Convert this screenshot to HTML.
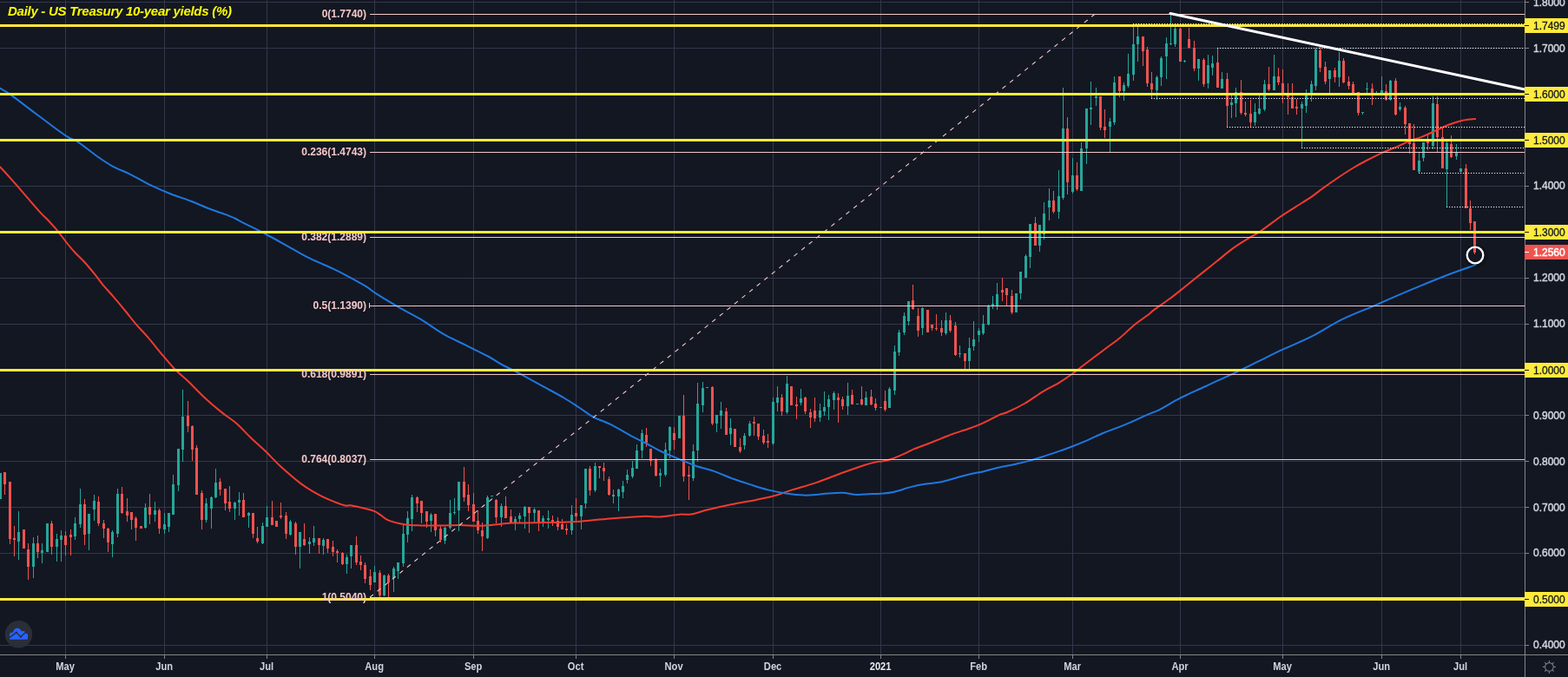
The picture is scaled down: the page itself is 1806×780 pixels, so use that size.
<!DOCTYPE html><html><head><meta charset="utf-8"><style>html,body{margin:0;padding:0;background:#131722;overflow:hidden}svg{display:block}text{font-family:"Liberation Sans",Arial,sans-serif}</style></head><body>
<svg width="1806" height="780" viewBox="0 0 1806 780">
<rect width="1806" height="780" fill="#131722"/>
<path d="M75.5 0V754 M189.5 0V754 M307.5 0V754 M431.5 0V754 M545.5 0V754 M663.5 0V754 M776.5 0V754 M890.5 0V754 M1014.5 0V754 M1127.5 0V754 M1235.5 0V754 M1359.5 0V754 M1477.5 0V754 M1591.5 0V754 M1682.5 0V754 M0 2.5H1756 M0 55.5H1756 M0 108.5H1756 M0 161.5H1756 M0 214.5H1756 M0 267.5H1756 M0 320.5H1756 M0 373.5H1756 M0 426.5H1756 M0 478.5H1756 M0 531.5H1756 M0 584.5H1756 M0 637.5H1756 M0 690.5H1756 M0 743.5H1756" stroke="#33374a" stroke-width="1" fill="none" shape-rendering="crispEdges"/>
<path d="M0.5 545V575M21.5 589V645M38.5 619V666M48.5 626V649M54.5 603V636M65.5 615V647M70.5 611V647M86.5 596V622M92.5 563V608M102.5 592V634M108.5 570V600M129.5 611V642M135.5 563V619M167.5 580V609M178.5 578V601M189.5 591V615M194.5 591V613M199.5 547V593M205.5 517V566M210.5 449V532M237.5 574V602M243.5 572V609M248.5 540V574M270.5 578V599M275.5 567V594M286.5 590V608M302.5 602V627M307.5 583V607M334.5 599V617M345.5 613V655M356.5 619V638M361.5 606V629M372.5 620V639M399.5 639V661M404.5 628V655M431.5 652V671M442.5 662V687M453.5 653V682M458.5 648V667M464.5 605V653M469.5 589V625M474.5 570V612M496.5 591V613M512.5 607V627M518.5 576V610M523.5 574V593M528.5 555V612M561.5 571V621M566.5 571V572M577.5 580V607M593.5 595V611M598.5 591V602M604.5 583V609M615.5 585V603M625.5 594V607M631.5 588V609M658.5 582V616M669.5 582V610M674.5 540V586M685.5 533V567M706.5 564V580M712.5 563V589M717.5 554V574M722.5 541V557M728.5 531V551M733.5 512V540M739.5 495V528M760.5 540V561M766.5 510V549M771.5 491V528M782.5 479V505M798.5 512V554M803.5 441V532M809.5 440V475M814.5 446V447M825.5 478V498M830.5 463V494M841.5 482V513M857.5 499V518M863.5 485V503M890.5 458V513M895.5 445V474M906.5 433V477M922.5 448V467M944.5 465V486M949.5 451V479M954.5 455V484M960.5 451V472M976.5 441V478M987.5 465V466M997.5 451V467M1014.5 469V470M1024.5 446V470M1030.5 398V455M1035.5 380V410M1041.5 360V386M1046.5 347V375M1062.5 354V386M1089.5 360V386M1105.5 398V412M1116.5 389V428M1121.5 370V404M1127.5 378V394M1132.5 363V386M1138.5 351V375M1143.5 341V356M1148.5 326V357M1170.5 338V360M1175.5 313V345M1181.5 293V320M1186.5 258V309M1197.5 259V290M1202.5 233V276M1208.5 217V254M1219.5 196V252M1224.5 101V230M1235.5 182V223M1245.5 164V220M1251.5 125V189M1256.5 94V144M1262.5 101V122M1278.5 136V175M1283.5 88V144M1294.5 95V116M1299.5 62V101M1305.5 31V93M1310.5 31V71M1332.5 87V115M1337.5 65V99M1343.5 43V91M1348.5 15V52M1353.5 31V54M1364.5 69V72M1380.5 68V93M1391.5 63V102M1396.5 64V87M1407.5 83V102M1418.5 110V136M1423.5 101V135M1445.5 119V145M1450.5 110V132M1456.5 92V128M1467.5 63V104M1499.5 117V170M1504.5 103V130M1510.5 93V117M1515.5 55V104M1531.5 81V107M1542.5 60V100M1569.5 129V132M1574.5 95V107M1585.5 105V108M1591.5 88V107M1601.5 92V116M1612.5 118V128M1634.5 176V199M1639.5 164V186M1650.5 111V172M1666.5 163V238M1677.5 166V184M1682.5 194V198" stroke="#26a69a" stroke-width="1" shape-rendering="crispEdges"/>
<path d="M5.5 544V570M11.5 555V627M16.5 606V641M27.5 610V632M32.5 626V668M43.5 617V643M59.5 600V639M75.5 612V640M81.5 610V640M97.5 575V628M113.5 572V606M119.5 599V620M124.5 608V636M140.5 561V592M146.5 574V601M151.5 590V610M156.5 595V623M162.5 606V609M172.5 569V604M183.5 586V615M216.5 462V498M221.5 490V531M226.5 513V570M232.5 565V610M253.5 551V571M259.5 563V588M264.5 560V590M280.5 568V596M291.5 591V620M296.5 607V626M313.5 577V605M318.5 600V607M323.5 579V598M329.5 590V621M340.5 601V639M350.5 603V629M367.5 620V638M377.5 621V637M383.5 623V641M388.5 633V648M394.5 636V651M410.5 618V651M415.5 640V657M420.5 648V672M426.5 656V680M437.5 657V688M447.5 661V688M480.5 572V590M485.5 577V603M491.5 589V608M501.5 592V618M507.5 606V625M534.5 538V578M539.5 558V589M545.5 568V601M550.5 588V615M555.5 602V635M571.5 575V603M582.5 572V597M588.5 587V602M609.5 584V614M620.5 588V612M636.5 594V606M642.5 596V611M647.5 598V610M652.5 604V616M663.5 574V601M679.5 537V571M690.5 537V551M695.5 533V554M701.5 549V571M744.5 493V515M749.5 517V537M755.5 528V549M776.5 492V518M787.5 455V555M793.5 537V576M820.5 445V490M836.5 470V501M846.5 494V515M852.5 505V522M868.5 480V502M873.5 488V507M879.5 495V512M884.5 500V516M900.5 454V479M911.5 445V467M917.5 457V483M927.5 457V477M933.5 471V493M938.5 458V486M965.5 453V487M970.5 457V472M981.5 449V466M992.5 445V467M1003.5 449V467M1008.5 459V473M1019.5 450V474M1051.5 328V357M1057.5 355V388M1068.5 357V383M1073.5 374V381M1078.5 362V381M1084.5 369V387M1094.5 363V383M1100.5 371V410M1111.5 407V425M1154.5 320V347M1159.5 332V352M1165.5 334V362M1192.5 250V283M1213.5 220V246M1229.5 135V224M1240.5 187V220M1267.5 111V150M1272.5 126V159M1289.5 88V112M1316.5 42V76M1321.5 54V100M1326.5 83V113M1359.5 32V71M1369.5 32V56M1375.5 47V82M1386.5 67V100M1402.5 55V101M1413.5 84V146M1429.5 92V132M1434.5 117V134M1440.5 115V146M1461.5 77V105M1472.5 78V98M1477.5 80V119M1483.5 96V132M1488.5 96V125M1493.5 114V132M1520.5 54V83M1526.5 71V97M1537.5 78V95M1547.5 67V96M1553.5 88V103M1558.5 94V108M1564.5 106V133M1580.5 96V121M1596.5 97V116M1607.5 90V133M1618.5 122V155M1623.5 142V177M1628.5 143V196M1644.5 155V173M1655.5 111V175M1661.5 148V194M1671.5 156V182M1688.5 189V240M1693.5 231V265M1698.5 255V293" stroke="#ef5350" stroke-width="1" shape-rendering="crispEdges"/>
<path d="M-1 545h3v30h-3zM20 613h3v11h-3zM37 626h3v27h-3zM47 634h3v3h-3zM53 603h3v33h-3zM64 621h3v9h-3zM69 617h3v5h-3zM85 603h3v15h-3zM91 581h3v23h-3zM101 592h3v23h-3zM107 577h3v10h-3zM128 613h3v14h-3zM134 569h3v46h-3zM166 585h3v23h-3zM177 588h3v5h-3zM188 604h3v6h-3zM193 591h3v16h-3zM198 558h3v35h-3zM204 517h3v42h-3zM209 480h3v38h-3zM236 580h3v19h-3zM242 573h3v13h-3zM247 556h3v17h-3zM269 579h3v7h-3zM274 576h3v3h-3zM285 591h3v3h-3zM301 606h3v20h-3zM306 596h3v11h-3zM333 601h3v15h-3zM344 613h3v17h-3zM355 624h3v3h-3zM360 620h3v5h-3zM371 622h3v7h-3zM398 642h3v8h-3zM403 628h3v13h-3zM430 659h3v12h-3zM441 663h3v23h-3zM452 655h3v11h-3zM457 648h3v10h-3zM463 615h3v34h-3zM468 597h3v19h-3zM473 573h3v25h-3zM495 593h3v7h-3zM511 608h3v15h-3zM517 591h3v17h-3zM522 590h3v1h-3zM527 555h3v33h-3zM560 573h3v47h-3zM565 571h3v1h-3zM576 583h3v13h-3zM592 598h3v4h-3zM597 594h3v4h-3zM603 584h3v11h-3zM614 587h3v4h-3zM624 597h3v6h-3zM630 597h3v2h-3zM657 593h3v18h-3zM668 582h3v13h-3zM673 540h3v40h-3zM684 537h3v28h-3zM705 570h3v2h-3zM711 564h3v8h-3zM716 560h3v7h-3zM721 547h3v6h-3zM727 539h3v10h-3zM732 519h3v21h-3zM738 499h3v20h-3zM759 545h3v3h-3zM765 518h3v29h-3zM770 492h3v27h-3zM781 479h3v26h-3zM797 520h3v31h-3zM802 465h3v54h-3zM808 447h3v20h-3zM813 446h3v1h-3zM824 478h3v10h-3zM829 473h3v6h-3zM840 493h3v7h-3zM856 502h3v11h-3zM862 488h3v14h-3zM889 463h3v48h-3zM894 458h3v6h-3zM905 442h3v33h-3zM921 459h3v5h-3zM943 473h3v8h-3zM948 469h3v5h-3zM953 460h3v9h-3zM959 453h3v8h-3zM975 456h3v12h-3zM986 465h3v1h-3zM996 458h3v9h-3zM1013 469h3v1h-3zM1023 448h3v22h-3zM1029 405h3v45h-3zM1034 383h3v23h-3zM1040 364h3v19h-3zM1045 347h3v23h-3zM1061 355h3v23h-3zM1088 369h3v15h-3zM1104 407h3v1h-3zM1115 401h3v15h-3zM1120 391h3v8h-3zM1126 381h3v5h-3zM1131 373h3v11h-3zM1137 352h3v22h-3zM1142 350h3v2h-3zM1147 339h3v13h-3zM1169 338h3v22h-3zM1174 313h3v25h-3zM1180 295h3v25h-3zM1185 258h3v38h-3zM1196 259h3v24h-3zM1201 246h3v24h-3zM1207 231h3v8h-3zM1218 226h3v18h-3zM1223 148h3v80h-3zM1234 202h3v19h-3zM1244 171h3v49h-3zM1250 125h3v46h-3zM1255 124h3v2h-3zM1261 111h3v2h-3zM1277 140h3v6h-3zM1282 95h3v46h-3zM1293 98h3v7h-3zM1298 85h3v14h-3zM1304 51h3v35h-3zM1309 42h3v9h-3zM1331 89h3v15h-3zM1336 67h3v22h-3zM1342 50h3v15h-3zM1347 50h3v1h-3zM1352 33h3v18h-3zM1363 70h3v1h-3zM1379 68h3v11h-3zM1390 75h3v21h-3zM1395 73h3v5h-3zM1406 91h3v11h-3zM1417 118h3v3h-3zM1422 106h3v13h-3zM1444 129h3v12h-3zM1449 125h3v6h-3zM1455 97h3v29h-3zM1466 88h3v16h-3zM1498 120h3v5h-3zM1503 110h3v12h-3zM1509 97h3v10h-3zM1514 57h3v42h-3zM1530 81h3v10h-3zM1541 70h3v19h-3zM1568 129h3v1h-3zM1573 102h3v1h-3zM1584 107h3v1h-3zM1590 104h3v3h-3zM1600 93h3v22h-3zM1611 123h3v3h-3zM1633 185h3v13h-3zM1638 164h3v18h-3zM1649 119h3v49h-3zM1665 165h3v30h-3zM1676 175h3v5h-3zM1681 194h3v4h-3z" fill="#26a69a" shape-rendering="crispEdges"/>
<path d="M4 544h3v14h-3zM10 555h3v66h-3zM15 620h3v2h-3zM26 610h3v22h-3zM31 633h3v20h-3zM42 626h3v10h-3zM58 603h3v27h-3zM74 617h3v11h-3zM80 616h3v3h-3zM96 581h3v35h-3zM112 578h3v25h-3zM118 603h3v6h-3zM123 609h3v16h-3zM139 569h3v22h-3zM145 589h3v5h-3zM150 590h3v9h-3zM155 597h3v11h-3zM161 606h3v3h-3zM171 584h3v9h-3zM182 588h3v21h-3zM215 479h3v12h-3zM220 491h3v27h-3zM225 516h3v54h-3zM231 568h3v31h-3zM252 555h3v9h-3zM258 563h3v17h-3zM263 578h3v8h-3zM279 576h3v20h-3zM290 591h3v24h-3zM295 620h3v4h-3zM312 596h3v9h-3zM317 600h3v7h-3zM322 594h3v2h-3zM328 594h3v21h-3zM339 603h3v27h-3zM349 621h3v7h-3zM366 620h3v8h-3zM376 621h3v11h-3zM382 630h3v6h-3zM387 635h3v2h-3zM393 637h3v13h-3zM409 628h3v20h-3zM414 647h3v4h-3zM419 651h3v16h-3zM425 664h3v10h-3zM436 660h3v26h-3zM446 663h3v8h-3zM479 573h3v7h-3zM484 577h3v14h-3zM490 589h3v12h-3zM500 592h3v19h-3zM506 609h3v13h-3zM533 555h3v18h-3zM538 570h3v12h-3zM544 581h3v20h-3zM549 600h3v11h-3zM554 611h3v7h-3zM570 576h3v20h-3zM581 583h3v14h-3zM587 595h3v7h-3zM608 584h3v7h-3zM619 588h3v14h-3zM635 599h3v2h-3zM641 600h3v7h-3zM646 604h3v6h-3zM651 609h3v2h-3zM662 591h3v4h-3zM678 540h3v25h-3zM689 537h3v2h-3zM694 539h3v4h-3zM700 552h3v18h-3zM743 501h3v9h-3zM748 517h3v14h-3zM754 530h3v18h-3zM775 499h3v8h-3zM786 479h3v70h-3zM792 547h3v2h-3zM819 446h3v42h-3zM835 474h3v27h-3zM845 494h3v21h-3zM851 515h3v5h-3zM867 486h3v2h-3zM872 488h3v15h-3zM878 502h3v8h-3zM883 508h3v2h-3zM899 458h3v16h-3zM910 445h3v22h-3zM916 466h3v2h-3zM926 458h3v16h-3zM932 475h3v6h-3zM937 473h3v9h-3zM964 458h3v3h-3zM969 460h3v8h-3zM980 455h3v11h-3zM991 460h3v6h-3zM1002 457h3v9h-3zM1007 465h3v5h-3zM1018 462h3v10h-3zM1050 346h3v10h-3zM1056 364h3v17h-3zM1067 357h3v26h-3zM1072 374h3v4h-3zM1077 378h3v1h-3zM1083 378h3v5h-3zM1093 369h3v12h-3zM1099 375h3v34h-3zM1110 407h3v9h-3zM1153 334h3v3h-3zM1158 332h3v8h-3zM1164 341h3v19h-3zM1191 257h3v26h-3zM1212 231h3v13h-3zM1228 148h3v62h-3zM1239 202h3v16h-3zM1266 111h3v36h-3zM1271 146h3v4h-3zM1288 88h3v17h-3zM1315 42h3v17h-3zM1320 57h3v39h-3zM1325 96h3v7h-3zM1358 33h3v38h-3zM1368 45h3v10h-3zM1374 55h3v24h-3zM1385 69h3v28h-3zM1401 72h3v29h-3zM1412 91h3v31h-3zM1428 106h3v24h-3zM1433 130h3v2h-3zM1439 131h3v10h-3zM1460 97h3v6h-3zM1471 88h3v7h-3zM1476 96h3v11h-3zM1482 108h3v4h-3zM1487 112h3v13h-3zM1492 123h3v2h-3zM1519 58h3v20h-3zM1525 77h3v17h-3zM1536 81h3v8h-3zM1546 70h3v25h-3zM1552 94h3v5h-3zM1557 97h3v11h-3zM1563 106h3v24h-3zM1579 102h3v6h-3zM1595 105h3v10h-3zM1606 93h3v39h-3zM1617 124h3v19h-3zM1622 142h3v24h-3zM1627 165h3v31h-3zM1643 163h3v2h-3zM1654 120h3v38h-3zM1660 158h3v36h-3zM1670 166h3v15h-3zM1687 194h3v46h-3zM1692 240h3v17h-3zM1697 255h3v36h-3z" fill="#ef5350" shape-rendering="crispEdges"/>
<path d="M0.0 192.3C2.1 194.5 8.9 201.8 12.3 205.6C15.7 209.4 17.1 211.0 20.5 214.9C23.9 218.8 28.3 224.1 32.8 229.2C37.2 234.3 43.4 241.5 47.2 245.6C51.0 249.7 52.3 250.6 55.4 253.8C58.5 257.1 62.2 261.0 65.6 265.1C69.0 269.2 72.5 274.2 75.9 278.5C79.3 282.8 82.8 287.1 86.2 290.8C89.6 294.6 92.7 296.9 96.4 301.0C100.2 305.1 104.8 310.6 108.7 315.4C112.6 320.2 116.2 325.4 120.0 329.9C123.8 334.4 127.1 337.7 131.3 342.6C135.5 347.5 141.2 354.3 145.4 359.5C149.6 364.7 152.5 368.7 156.7 373.6C160.9 378.5 165.6 383.1 170.8 389.1C176.0 395.1 182.5 403.6 187.7 409.7C192.9 415.8 197.1 421.0 201.8 425.8C206.5 430.6 210.2 433.1 215.9 438.5C221.6 443.9 229.1 452.1 235.7 458.2C242.3 464.3 249.3 470.2 255.4 475.1C261.5 480.0 266.7 482.9 272.3 487.8C277.9 492.8 283.7 499.4 289.3 504.8C294.9 510.2 300.6 514.9 306.2 520.3C311.8 525.7 316.5 531.2 323.1 537.3C329.8 543.4 339.6 551.9 346.1 556.9C352.6 561.9 356.9 564.2 362.3 567.3C367.7 570.4 372.6 572.9 378.4 575.4C384.2 577.9 392.7 581.1 396.9 582.3C401.1 583.4 399.9 581.7 403.8 582.3C407.7 582.9 415.4 584.6 420.0 585.8C424.6 586.9 428.4 587.9 431.5 589.2C434.6 590.5 435.7 591.7 438.4 593.4C441.1 595.1 443.1 597.8 447.7 599.6C452.3 601.4 460.0 603.2 466.1 604.2C472.2 605.2 477.7 605.2 484.6 605.4C491.5 605.6 500.0 605.5 507.7 605.4C515.4 605.3 523.8 604.8 530.7 604.9C537.6 605.0 543.4 605.8 549.2 605.8C555.0 605.8 558.8 605.4 565.3 604.9C571.8 604.4 582.6 603.0 588.4 602.6C594.2 602.2 593.8 602.7 600.0 602.6C606.2 602.5 614.9 602.4 625.6 602.1C636.3 601.8 651.3 601.8 664.1 601.0C676.9 600.2 689.8 598.4 702.6 597.4C715.4 596.4 731.4 595.2 741.0 594.9C750.6 594.6 753.1 595.9 760.0 595.5C766.9 595.1 776.1 593.2 782.1 592.7C788.1 592.2 790.5 593.4 796.0 592.5C801.5 591.6 807.5 589.1 815.4 587.2C823.2 585.3 833.9 582.9 843.1 581.0C852.3 579.1 862.6 577.5 870.7 575.9C878.8 574.3 884.6 573.2 891.5 571.3C898.4 569.4 904.2 566.9 912.3 564.4C920.4 561.9 930.8 559.2 940.0 556.1C949.2 553.0 958.4 549.1 967.6 545.7C976.8 542.4 988.2 538.3 995.3 536.0C1002.4 533.7 1006.7 532.8 1010.0 532.1C1013.3 531.4 1012.3 532.2 1014.9 531.7C1017.5 531.2 1020.8 530.9 1025.6 529.3C1030.4 527.6 1039.1 523.8 1043.6 521.8C1048.1 519.8 1049.0 518.8 1052.6 517.3C1056.2 515.8 1060.0 514.8 1065.1 512.8C1070.2 510.8 1077.7 507.8 1083.1 505.6C1088.5 503.5 1092.0 501.8 1097.4 499.9C1102.8 498.0 1109.4 496.2 1115.4 494.0C1121.4 491.8 1127.4 489.5 1133.4 486.8C1139.4 484.1 1146.9 479.8 1151.3 477.8C1155.7 475.8 1155.2 477.1 1160.0 475.0C1164.8 472.9 1173.0 469.0 1180.0 465.0C1187.0 461.0 1195.0 454.8 1201.7 450.8C1208.4 446.8 1214.5 444.1 1220.0 440.8C1225.5 437.5 1229.5 434.8 1235.0 430.8C1240.5 426.8 1246.9 421.6 1253.3 416.7C1259.7 411.8 1267.2 406.3 1273.3 401.7C1279.4 397.1 1284.4 393.8 1290.0 389.2C1295.6 384.6 1301.4 378.5 1306.7 374.2C1312.0 369.9 1317.8 366.3 1321.7 363.3C1325.6 360.3 1325.6 359.6 1330.0 356.4C1334.4 353.1 1341.9 348.3 1347.9 343.8C1353.9 339.3 1359.9 334.3 1365.9 329.5C1371.9 324.7 1377.8 319.9 1383.8 315.1C1389.8 310.3 1395.8 305.6 1401.8 300.8C1407.8 296.0 1413.7 290.8 1419.7 286.4C1425.7 282.0 1432.3 278.0 1437.7 274.7C1443.1 271.4 1446.0 270.3 1452.0 266.3C1458.0 262.3 1467.0 255.1 1473.6 250.5C1480.2 245.9 1485.4 242.7 1491.5 238.8C1497.6 234.9 1504.7 230.8 1510.0 227.2C1515.3 223.6 1518.3 220.8 1523.1 217.3C1527.8 213.9 1532.6 210.5 1538.5 206.5C1544.4 202.5 1552.6 197.1 1558.5 193.5C1564.4 189.9 1568.2 187.9 1573.8 185.0C1579.4 182.1 1586.6 178.4 1592.3 175.8C1598.0 173.2 1602.6 171.8 1607.7 169.6C1612.8 167.4 1618.0 164.8 1623.1 162.7C1628.2 160.6 1633.4 159.4 1638.5 157.3C1643.6 155.2 1648.7 152.7 1653.8 150.4C1658.9 148.1 1664.1 145.4 1669.2 143.5C1674.3 141.6 1679.6 139.9 1684.6 138.8C1689.6 137.7 1696.8 137.3 1699.2 137.0" fill="none" stroke="#f23b2f" stroke-width="2" stroke-linejoin="round" stroke-linecap="round"/>
<path d="M0.0 101.7C2.1 102.9 5.6 104.4 12.3 109.1C19.0 113.8 29.5 122.2 40.0 130.0C50.5 137.8 67.2 150.7 75.4 156.2C83.6 161.7 83.1 159.2 89.2 163.2C95.3 167.2 105.1 175.3 111.8 180.0C118.5 184.7 122.8 187.8 129.2 191.3C135.6 194.8 142.7 197.2 150.0 200.8C157.3 204.4 165.4 209.3 173.1 213.1C180.8 216.8 188.5 220.2 196.2 223.3C203.9 226.4 211.9 228.7 219.2 231.5C226.4 234.3 233.3 237.5 239.7 240.0C246.1 242.5 252.6 244.5 257.7 246.4C262.8 248.3 266.8 249.8 270.5 251.5C274.2 253.2 274.1 253.7 280.0 256.7C285.9 259.7 297.1 265.0 305.6 269.5C314.2 274.0 322.8 278.9 331.3 283.6C339.9 288.3 348.3 293.4 356.9 297.7C365.4 302.0 375.8 306.0 382.6 309.2C389.4 312.4 391.5 313.5 397.9 316.9C404.3 320.3 415.0 326.1 421.0 329.7C427.0 333.3 427.4 334.6 433.8 338.7C440.2 342.8 450.9 349.2 459.5 354.1C468.1 359.0 476.6 363.1 485.1 368.2C493.7 373.3 502.2 380.0 510.8 384.9C519.4 389.8 527.9 393.4 536.4 397.7C544.9 402.0 555.2 406.8 562.1 410.5C569.0 414.2 571.9 416.7 578.0 420.0C584.1 423.3 590.8 426.2 598.5 430.3C606.2 434.4 615.6 439.7 624.1 444.4C632.6 449.1 642.4 454.2 649.7 458.5C657.0 462.8 662.1 466.4 667.7 470.0C673.3 473.6 677.1 477.1 683.1 480.3C689.1 483.5 696.3 485.6 703.6 489.2C710.9 492.8 719.9 498.5 726.7 502.1C733.5 505.7 739.1 508.1 744.6 511.0C750.1 513.9 754.0 516.5 760.0 519.4C766.0 522.3 773.9 525.5 780.8 528.4C787.7 531.3 794.6 534.3 801.5 536.7C808.4 539.1 815.4 540.5 822.3 542.9C829.2 545.3 836.2 548.7 843.1 551.2C850.0 553.7 856.9 555.9 863.8 558.1C870.7 560.3 877.7 562.7 884.6 564.4C891.5 566.1 898.4 567.5 905.3 568.5C912.2 569.5 920.3 570.4 926.1 570.6C931.9 570.8 935.4 570.2 940.0 569.9C944.6 569.5 948.7 568.9 953.8 568.5C958.9 568.1 964.9 567.6 970.4 567.8C975.9 568.0 982.1 569.7 987.0 569.9C991.9 570.1 995.4 569.4 1000.0 569.2C1004.6 569.0 1009.6 569.1 1014.4 568.7C1019.2 568.3 1022.9 568.3 1028.8 567.0C1034.7 565.7 1043.5 562.5 1049.8 560.9C1056.1 559.3 1060.7 558.5 1066.4 557.6C1072.1 556.7 1078.7 556.3 1084.2 555.2C1089.8 554.1 1094.4 552.5 1099.7 551.0C1105.0 549.5 1110.8 547.8 1116.3 546.5C1121.8 545.2 1127.4 544.5 1132.9 543.2C1138.4 541.9 1143.6 540.2 1149.5 538.8C1155.4 537.4 1162.8 536.1 1168.3 534.9C1173.8 533.7 1177.4 533.0 1182.7 531.6C1188.0 530.2 1194.1 528.4 1200.0 526.5C1205.9 524.6 1212.4 522.4 1218.3 520.4C1224.2 518.4 1229.6 516.4 1235.3 514.2C1241.0 512.0 1246.3 509.9 1252.2 507.4C1258.1 504.9 1264.6 501.5 1270.5 499.0C1276.4 496.5 1281.8 494.8 1287.4 492.6C1293.1 490.4 1298.8 488.1 1304.4 485.6C1310.1 483.1 1316.1 480.0 1321.3 477.8C1326.5 475.6 1329.8 475.0 1335.4 472.2C1341.0 469.4 1349.4 463.9 1355.1 460.9C1360.8 457.8 1364.6 456.1 1369.3 453.9C1374.0 451.7 1378.7 449.7 1383.4 447.5C1388.1 445.3 1393.3 442.8 1397.5 440.9C1401.7 438.9 1405.0 437.5 1408.7 435.8C1412.5 434.1 1413.3 433.8 1420.0 430.6C1426.7 427.4 1439.1 421.4 1448.7 416.7C1458.3 412.0 1467.2 407.4 1477.4 402.7C1487.6 397.9 1498.3 394.0 1509.7 388.2C1521.1 382.4 1533.6 374.0 1545.6 368.1C1557.6 362.2 1572.5 356.7 1581.5 352.8C1590.5 348.9 1590.5 348.7 1599.5 344.8C1608.5 340.9 1623.4 334.5 1635.4 329.6C1647.4 324.7 1660.7 319.3 1671.3 315.3C1681.9 311.3 1694.5 307.0 1699.1 305.4" fill="none" stroke="#1e78e0" stroke-width="2" stroke-linejoin="round" stroke-linecap="round"/>
<path d="M426 16.5H1756 M426 175.5H1756 M426 273.5H1756 M426 352.5H1756 M426 431.5H1756 M426 529.5H1756 M426 688.5H1756 M425.5 349V355" stroke="#f4c7c7" stroke-width="1" fill="none" shape-rendering="crispEdges"/>
<line x1="426" y1="688.1" x2="1261" y2="16.3" stroke="#f4c7c7" stroke-width="1.1" stroke-dasharray="5 6"/>
<path d="M0 29.5H1756 M0 108.5H1756 M0 161.5H1756 M0 267.5H1756 M0 426.5H1756 M0 690.5H1756" stroke="#ffeb3b" stroke-width="3" fill="none"/>
<text x="422" y="19.9" fill="#f4c7c7" font-size="12" font-weight="bold" text-anchor="end">0(1.7740)</text>
<text x="422" y="178.9" fill="#f4c7c7" font-size="12" font-weight="bold" text-anchor="end">0.236(1.4743)</text>
<text x="422" y="276.9" fill="#f4c7c7" font-size="12" font-weight="bold" text-anchor="end">0.382(1.2889)</text>
<text x="422" y="355.9" fill="#f4c7c7" font-size="12" font-weight="bold" text-anchor="end">0.5(1.1390)</text>
<text x="422" y="434.9" fill="#f4c7c7" font-size="12" font-weight="bold" text-anchor="end">0.618(0.9891)</text>
<text x="422" y="532.9" fill="#f4c7c7" font-size="12" font-weight="bold" text-anchor="end">0.764(0.8037)</text>
<text x="422" y="691.9" fill="#f4c7c7" font-size="12" font-weight="bold" text-anchor="end">1(0.5040)</text>
<path d="M0 267.5H1756" stroke="#ffeb3b" stroke-width="3" fill="none"/>
<path d="M1305.0 27.5H1756 M1402.0 55.5H1756 M1326.0 113.5H1756 M1413.0 146.5H1756 M1499.0 170.5H1756 M1634.0 199.5H1756 M1666.0 238.5H1756" stroke="#f4f4f4" stroke-width="1.2" stroke-dasharray="1.2 1.8" fill="none"/>
<line x1="1348" y1="15.5" x2="1756" y2="103" stroke="#ffffff" stroke-width="3" stroke-linecap="round"/>
<circle cx="1700" cy="295" r="11.5" fill="none" stroke="#000000" stroke-opacity="0.18" stroke-width="4"/>
<circle cx="1699" cy="294" r="9.3" fill="none" stroke="#ffffff" stroke-width="2.3"/>
<rect x="1756" y="0" width="50" height="780" fill="#131722"/>
<rect x="0" y="754" width="1806" height="26" fill="#131722"/>
<path d="M1756.5 0V780M0 754.5H1806" stroke="#838485" stroke-width="1" shape-rendering="crispEdges"/>
<text x="1766" y="6.6" fill="#d1d4dc" font-size="12" stroke="#d1d4dc" stroke-width="0.45">1.8000</text>
<text x="1766" y="59.5" fill="#d1d4dc" font-size="12" stroke="#d1d4dc" stroke-width="0.45">1.7000</text>
<text x="1766" y="218.2" fill="#d1d4dc" font-size="12" stroke="#d1d4dc" stroke-width="0.45">1.4000</text>
<text x="1766" y="324.0" fill="#d1d4dc" font-size="12" stroke="#d1d4dc" stroke-width="0.45">1.2000</text>
<text x="1766" y="376.9" fill="#d1d4dc" font-size="12" stroke="#d1d4dc" stroke-width="0.45">1.1000</text>
<text x="1766" y="482.7" fill="#d1d4dc" font-size="12" stroke="#d1d4dc" stroke-width="0.45">0.9000</text>
<text x="1766" y="535.6" fill="#d1d4dc" font-size="12" stroke="#d1d4dc" stroke-width="0.45">0.8000</text>
<text x="1766" y="588.5" fill="#d1d4dc" font-size="12" stroke="#d1d4dc" stroke-width="0.45">0.7000</text>
<text x="1766" y="641.4" fill="#d1d4dc" font-size="12" stroke="#d1d4dc" stroke-width="0.45">0.6000</text>
<text x="1766" y="747.2" fill="#d1d4dc" font-size="12" stroke="#d1d4dc" stroke-width="0.45">0.4000</text>
<path d="M1757 2.5h4 M1757 55.5h4 M1757 108.5h4 M1757 161.5h4 M1757 214.5h4 M1757 267.5h4 M1757 320.5h4 M1757 373.5h4 M1757 426.5h4 M1757 478.5h4 M1757 531.5h4 M1757 584.5h4 M1757 637.5h4 M1757 690.5h4 M1757 743.5h4" stroke="#838485" stroke-width="1" shape-rendering="crispEdges"/>
<rect x="1756" y="21" width="50" height="17" fill="#ffeb3b"/>
<path d="M1756 29.5h5" stroke="#131722" stroke-width="1"/>
<text x="1766" y="33.8" fill="#131722" font-size="12" stroke="#131722" stroke-width="0.3">1.7499</text>
<rect x="1756" y="100" width="50" height="17" fill="#ffeb3b"/>
<path d="M1756 108.5h5" stroke="#131722" stroke-width="1"/>
<text x="1766" y="112.8" fill="#131722" font-size="12" stroke="#131722" stroke-width="0.3">1.6000</text>
<rect x="1756" y="153" width="50" height="17" fill="#ffeb3b"/>
<path d="M1756 161.5h5" stroke="#131722" stroke-width="1"/>
<text x="1766" y="165.8" fill="#131722" font-size="12" stroke="#131722" stroke-width="0.3">1.5000</text>
<rect x="1756" y="259" width="50" height="17" fill="#ffeb3b"/>
<path d="M1756 267.5h5" stroke="#131722" stroke-width="1"/>
<text x="1766" y="271.8" fill="#131722" font-size="12" stroke="#131722" stroke-width="0.3">1.3000</text>
<rect x="1756" y="418" width="50" height="17" fill="#ffeb3b"/>
<path d="M1756 426.5h5" stroke="#131722" stroke-width="1"/>
<text x="1766" y="430.8" fill="#131722" font-size="12" stroke="#131722" stroke-width="0.3">1.0000</text>
<rect x="1756" y="682" width="50" height="17" fill="#ffeb3b"/>
<path d="M1756 690.5h5" stroke="#131722" stroke-width="1"/>
<text x="1766" y="694.8" fill="#131722" font-size="12" stroke="#131722" stroke-width="0.3">0.5000</text>
<rect x="1756" y="282" width="50" height="17" fill="#ef5350"/>
<path d="M1756 290.5h5" stroke="#ffffff" stroke-width="1"/>
<text x="1766" y="294.8" fill="#ffffff" font-size="12" stroke="#ffffff" stroke-width="0.45">1.2560</text>
<text transform="translate(75.1 772) scale(0.93 1)" fill="#d1d4dc" font-size="12" font-weight="bold" text-anchor="middle">May</text>
<text transform="translate(189.1 772) scale(0.93 1)" fill="#d1d4dc" font-size="12" font-weight="bold" text-anchor="middle">Jun</text>
<text transform="translate(307.1 772) scale(0.93 1)" fill="#d1d4dc" font-size="12" font-weight="bold" text-anchor="middle">Jul</text>
<text transform="translate(431.1 772) scale(0.93 1)" fill="#d1d4dc" font-size="12" font-weight="bold" text-anchor="middle">Aug</text>
<text transform="translate(545.1 772) scale(0.93 1)" fill="#d1d4dc" font-size="12" font-weight="bold" text-anchor="middle">Sep</text>
<text transform="translate(663.1 772) scale(0.93 1)" fill="#d1d4dc" font-size="12" font-weight="bold" text-anchor="middle">Oct</text>
<text transform="translate(776.1 772) scale(0.93 1)" fill="#d1d4dc" font-size="12" font-weight="bold" text-anchor="middle">Nov</text>
<text transform="translate(890.1 772) scale(0.93 1)" fill="#d1d4dc" font-size="12" font-weight="bold" text-anchor="middle">Dec</text>
<text transform="translate(1014.1 772) scale(0.93 1)" fill="#e8e9ed" font-size="12" font-weight="bold" text-anchor="middle">2021</text>
<text transform="translate(1127.1 772) scale(0.93 1)" fill="#d1d4dc" font-size="12" font-weight="bold" text-anchor="middle">Feb</text>
<text transform="translate(1235.1 772) scale(0.93 1)" fill="#d1d4dc" font-size="12" font-weight="bold" text-anchor="middle">Mar</text>
<text transform="translate(1359.1 772) scale(0.93 1)" fill="#d1d4dc" font-size="12" font-weight="bold" text-anchor="middle">Apr</text>
<text transform="translate(1477.1 772) scale(0.93 1)" fill="#d1d4dc" font-size="12" font-weight="bold" text-anchor="middle">May</text>
<text transform="translate(1591.1 772) scale(0.93 1)" fill="#d1d4dc" font-size="12" font-weight="bold" text-anchor="middle">Jun</text>
<text transform="translate(1682.1 772) scale(0.93 1)" fill="#d1d4dc" font-size="12" font-weight="bold" text-anchor="middle">Jul</text>
<path d="M75.5 755v4 M189.5 755v4 M307.5 755v4 M431.5 755v4 M545.5 755v4 M663.5 755v4 M776.5 755v4 M890.5 755v4 M1014.5 755v4 M1127.5 755v4 M1235.5 755v4 M1359.5 755v4 M1477.5 755v4 M1591.5 755v4 M1682.5 755v4" stroke="#838485" stroke-width="1" shape-rendering="crispEdges"/>
<g transform="translate(1784.4 768.4)" stroke="#787b86" fill="none" stroke-width="1.1"><circle r="4.8"/><path d="M0 -5V-7.5M0 5V7.5M-5 0H-7.5M5 0H7.5M3.5 -3.5L5.2 -5.2M-3.5 -3.5L-5.2 -5.2M3.5 3.5L5.2 5.2M-3.5 3.5L-5.2 5.2"/></g>
<circle cx="21.5" cy="730.8" r="15.7" fill="#2a2e39"/>
<g fill="#2962ff"><rect x="11" y="731" width="21" height="5.8" rx="1.2"/><circle cx="14" cy="731.6" r="3"/><circle cx="20" cy="728.6" r="4.8"/><circle cx="26.3" cy="730.2" r="3.1"/><circle cx="29" cy="732.8" r="3.2"/></g>
<path d="M10.8 734.6L18.8 728.8L23.9 733.7L30.5 727.6" stroke="#2a2e39" stroke-width="1.3" fill="none" stroke-linejoin="round"/>
<circle cx="18.8" cy="728.8" r="1.2" fill="#2a2e39"/><circle cx="23.9" cy="733.7" r="1.2" fill="#2a2e39"/>
<text x="9" y="18" fill="#ffff00" font-size="15" font-weight="bold" font-style="italic" textLength="258" lengthAdjust="spacing">Daily - US Treasury 10-year yields (%)</text>
</svg></body></html>
